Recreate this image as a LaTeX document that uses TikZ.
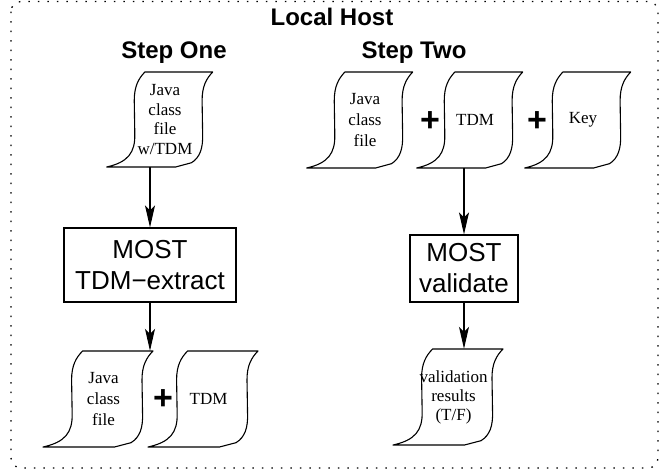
\documentclass[tikz,border=0pt]{standalone}
\usepackage{fontspec}
\setmainfont{Liberation Serif}
\setsansfont{Liberation Sans}
\usetikzlibrary{arrows.meta}
\tikzset{
  docline/.style={line width=1.1pt, line join=round},
  doc/.style={inner sep=0pt, align=center, font=\fontsize{17}{21}\selectfont},
  procbox/.style={draw, line width=1.1pt, inner sep=0pt, align=center, font=\sffamily\fontsize{26}{31}\selectfont},
  heading/.style={font=\sffamily\bfseries\fontsize{24}{28}\selectfont, inner sep=0pt, anchor=base},
  plussign/.style={font=\sffamily\bfseries\fontsize{34}{34}\selectfont, inner sep=0pt},
  arr/.style={-{Stealth[length=22pt,width=10pt,inset=5pt]}, line width=1.1pt},
  framebox/.style={line width=1.3pt, dash pattern=on 1.5pt off 8pt, rounded corners=10pt}
}
\newcommand\docshape[3]{%
  \begin{scope}[shift={(#1.center)}, x={(#2,0pt)}, y={(0pt,-#3)}, shift={(-0.55,-0.5)}]
    \draw[docline] (0.36,0) -- (1,0)
      .. controls (0.94,0.07) and (0.9,0.15) .. (0.9,0.3)
      -- (0.905,0.65)
      .. controls (0.91,0.8) and (0.88,0.9) .. (0.8,0.955)
      -- (0.65,1) -- (0,1)
      .. controls (0.2,0.95) and (0.27,0.85) .. (0.265,0.65)
      -- (0.26,0.3)
      .. controls (0.26,0.15) and (0.3,0.07) .. (0.36,0) -- cycle;
  \end{scope}}
\begin{document}
\begin{tikzpicture}[x=1pt, y=-1pt]
\useasboundingbox (0,0) rectangle (665,471);
\draw[framebox] (11,1.5) rectangle (658,468);

\node[heading] (lh) at (332,26) {Local Host};
\node[heading] (s1) at (174,58) {Step One};
\node[heading] (s2) at (414,58) {Step Two};

% Step One
\node[doc, minimum width=106pt, minimum height=95pt, font=\fontsize{17}{19.5}\selectfont] (d1) at (165,119.5) {Java\\class\\file\\w/TDM};
\docshape{d1}{106pt}{95pt}
\node[procbox, minimum width=172pt, minimum height=74pt] (b1) at (150,265) {MOST\\TDM−extract};
\node[doc, minimum width=110pt, minimum height=96pt] (d2) at (103.5,399) {Java\\class\\file};
\docshape{d2}{110pt}{96pt}
\node[doc, minimum width=110pt, minimum height=96pt] (d3) at (208.5,399) {TDM};
\docshape{d3}{110pt}{96pt}
\node[plussign] (p1) at (163,400) {+};

% Step Two
\node[doc, minimum width=106pt, minimum height=96pt] (e1) at (365,120) {Java\\class\\file};
\docshape{e1}{106pt}{96pt}
\node[doc, minimum width=106pt, minimum height=96pt] (e2) at (475,120) {TDM};
\docshape{e2}{106pt}{96pt}
\node[doc, minimum width=106pt, minimum height=96pt] (e3) at (583,120) {Key};
\docshape{e3}{106pt}{96pt}
\node[plussign] (p2) at (430,122) {+};
\node[plussign] (p3) at (537,122) {+};
\node[procbox, minimum width=108pt, minimum height=67pt] (b2) at (464,268.5) {MOST\\validate};
\node[doc, minimum width=110pt, minimum height=96pt, font=\fontsize{17}{19}\selectfont] (v) at (453.5,397) {validation\\results\\(T/F)};
\docshape{v}{110pt}{96pt}

% connectors
\draw[arr] (d1.south -| b1.north) -- (b1.north);
\draw[arr] (b1.south) -- (b1.south |- d2.north);
\draw[arr] (e2.south -| b2.north) -- (b2.north);
\draw[arr] (b2.south) -- (b2.south |- v.north);
\end{tikzpicture}
\end{document}
